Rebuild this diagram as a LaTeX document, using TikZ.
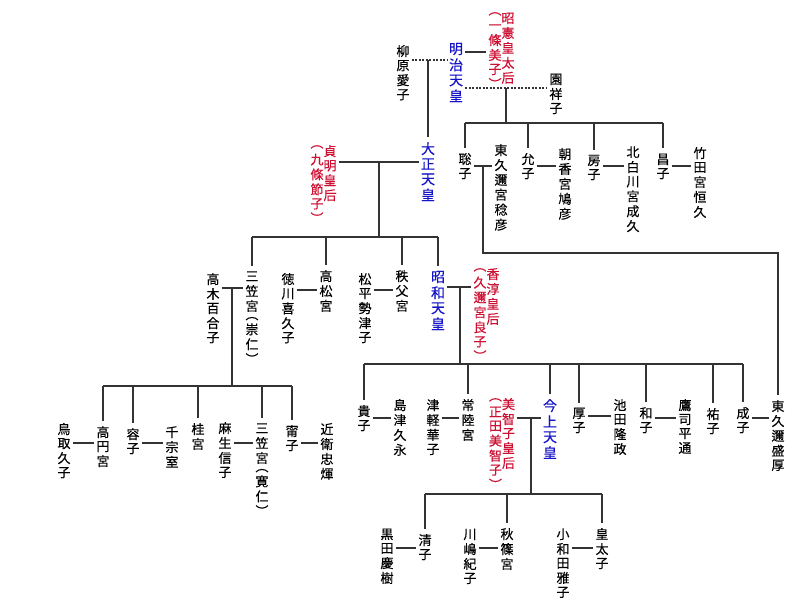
\documentclass[tikz,border=0pt]{standalone}
\usepackage{fontspec}
\setmainfont{Noto Sans CJK JP}[FakeBold=0.3]
\definecolor{tenno}{RGB}{20,20,200}
\definecolor{kogo}{RGB}{205,15,50}
\newcommand{\tate}[1]{\begin{tabular}[t]{@{}c@{}}#1\end{tabular}}
\begin{document}
\begin{tikzpicture}
  [x=1pt,y=-1pt,
   every node/.style={anchor=base,inner xsep=2pt,inner ysep=0pt,font=\fontsize{13}{13.4}\selectfont},
   emperor/.style={text=tenno,font=\fontsize{14}{14.6}\selectfont},
   empress/.style={text=kogo},
   tree/.style={line width=1.2pt,draw=black!80},
   drop/.style={tree,shorten >=5pt},
   concubine/.style={tree,dash pattern=on 2pt off 1.5pt}]
  \useasboundingbox[fill=white] (0,0) rectangle (800,599);
  % 明治天皇
  \node[emperor] (meiji) at (456,54) {\tate{明\\治\\天\\皇}};
  \node[empress] (shoken) at (501.5,23) {\raisebox{8.4pt}{\tate{︵\\[2pt]一\\條\\美\\子\\︶}}\tate{昭\\憲\\皇\\太\\后}};
  \node (yanagi) at (403,56) {\tate{柳\\原\\愛\\子}};
  \node (sono) at (556,84) {\tate{園\\祥\\子}};
  % 大正天皇
  \node[emperor] (taisho) at (428,154) {\tate{大\\正\\天\\皇}};
  \node[empress] (teimei) at (323.5,156) {\raisebox{8.4pt}{\tate{︵\\[2pt]九\\條\\節\\子\\︶}}\tate{貞\\明\\皇\\后}};
  \node (toshiko) at (465,164) {\tate{聡\\子}};
  \node (naruhiko) at (501,155) {\tate{東\\久\\邇\\宮\\稔\\彦}};
  \node (nobuko) at (528,164) {\tate{允\\子}};
  \node (yasuhiko) at (565,159) {\tate{朝\\香\\宮\\鳩\\彦}};
  \node (fusako) at (594,165) {\tate{房\\子}};
  \node (naruhisa) at (633,157) {\tate{北\\白\\川\\宮\\成\\久}};
  \node (masako) at (663,164) {\tate{昌\\子}};
  \node (tsunehisa) at (700,158) {\tate{竹\\田\\宮\\恒\\久}};
  % 昭和天皇
  \node (yuriko) at (213,284) {\tate{高\\木\\百\\合\\子}};
  \node (takahito) at (252,281) {\tate{三\\笠\\宮\\[-5pt]︵\\崇\\仁\\︶}};
  \node (kikuko) at (288,284) {\tate{徳\\川\\喜\\久\\子}};
  \node (takamatsu) at (326,281) {\tate{高\\松\\宮}};
  \node (setsuko) at (365,284) {\tate{松\\平\\勢\\津\\子}};
  \node (chichibu) at (402,281) {\tate{秩\\父\\宮}};
  \node[emperor] (showa) at (438,282) {\tate{昭\\和\\天\\皇}};
  \node[empress] (kojun) at (486.5,279) {\raisebox{8.4pt}{\tate{︵\\[2pt]久\\邇\\宮\\良\\子\\︶}}\tate{香\\淳\\皇\\后}};
  % 三笠宮家
  \node (hisako) at (64,434) {\tate{鳥\\取\\久\\子}};
  \node (takamado) at (103,437) {\tate{高\\円\\宮}};
  \node (yasuko) at (133,439) {\tate{容\\子}};
  \node (sen) at (172,437) {\tate{千\\宗\\室}};
  \node (katsura) at (198,434) {\tate{桂\\宮}};
  \node (nobuko2) at (225,433) {\tate{麻\\生\\信\\子}};
  \node (tomohito) at (262,433) {\tate{三\\笠\\宮\\[-5pt]︵\\寛\\仁\\︶}};
  \node (yasuko2) at (292,436) {\tate{甯\\子}};
  \node (tadateru) at (327,434) {\tate{近\\衛\\忠\\煇}};
  % 今上天皇
  \node (takako) at (364,416) {\tate{貴\\子}};
  \node (hisanaga) at (400,410) {\tate{島\\津\\久\\永}};
  \node (hanako) at (433,410) {\tate{津\\軽\\華\\子}};
  \node (hitachi) at (468,410) {\tate{常\\陸\\宮}};
  \node[empress] (michiko) at (502,409) {\raisebox{8.4pt}{\tate{︵\\[2pt]正\\田\\美\\智\\子\\︶}}\tate{美\\智\\子\\皇\\后}};
  \node[emperor] (kinjo) at (550,411) {\tate{今\\上\\天\\皇}};
  \node (atsuko) at (579,418) {\tate{厚\\子}};
  \node (takamasa) at (620,410) {\tate{池\\田\\隆\\政}};
  \node (kazuko) at (646,418) {\tate{和\\子}};
  \node (toshimichi) at (685,410) {\tate{鷹\\司\\平\\通}};
  \node (yoriko) at (713,419) {\tate{祐\\子}};
  \node (shigeko) at (743,418) {\tate{成\\子}};
  \node (morihiro) at (778,411) {\tate{東\\久\\邇\\盛\\厚}};
  % 皇太子の代
  \node (yoshiki) at (387,539) {\tate{黒\\田\\慶\\樹}};
  \node (sayako) at (425,545) {\tate{清\\子}};
  \node (kiko) at (470,539) {\tate{川\\嶋\\紀\\子}};
  \node (akishino) at (507,539) {\tate{秋\\篠\\宮}};
  \node (owada) at (563,539) {\tate{小\\和\\田\\雅\\子}};
  \node (kotaishi) at (602,539) {\tate{皇\\太\\子}};

  % branch points
  \coordinate (k1) at (506,123);
  \coordinate (k2) at (379,237);
  \coordinate (k3) at (460,364);
  \coordinate (k4) at (232,386);
  \coordinate (k5) at (531,494);
  \coordinate (k6) at (483,253);

  % marriages
  \foreach \a/\b/\y in {meiji/shoken/52,toshiko/naruhiko/166,nobuko/yasuhiko/166,
      fusako/naruhisa/166,masako/tsunehisa/166,teimei/taisho/162,yuriko/takahito/288,
      kikuko/takamatsu/290,setsuko/chichibu/290,showa/kojun/287,hisako/takamado/443,
      yasuko/sen/443,nobuko2/tomohito/443,yasuko2/tadateru/443,takako/hisanaga/418,
      hanako/hitachi/418,michiko/kinjo/418,atsuko/takamasa/416,kazuko/toshimichi/418,
      shigeko/morihiro/418,yoshiki/sayako/548,kiko/akishino/548,owada/kotaishi/548}
    \draw[tree] (\a.east |- 0,\y) -- (\b.west |- 0,\y);
  \draw[concubine] (yanagi.east |- 0,60) -- (meiji.west |- 0,60);
  \draw[concubine] (meiji.east |- 0,88) -- (sono.west |- 0,88);

  % descent
  \draw[drop] (taisho.north |- 0,60) -- (taisho.north);
  \draw[tree] (k1 |- 0,88) -- (k1);
  \draw[tree] (toshiko.north |- k1) -- (masako.north |- k1);
  \foreach \c in {toshiko,nobuko,fusako,masako}
    \draw[drop] (\c.north |- k1) -- (\c.north);
  \draw[drop] (k6 |- 0,166) -- (k6) -| (morihiro.north);
  \draw[tree] (k2 |- 0,162) -- (k2);
  \draw[tree] (takahito.north |- k2) -- (showa.north |- k2);
  \foreach \c in {takahito,takamatsu,chichibu,showa}
    \draw[drop] (\c.north |- k2) -- (\c.north);
  \draw[tree] (k3 |- 0,287) -- (k3);
  \draw[tree] (takako.north |- k3) -- (shigeko.north |- k3);
  \foreach \c in {takako,hitachi,kinjo,atsuko,kazuko,yoriko,shigeko}
    \draw[drop] (\c.north |- k3) -- (\c.north);
  \draw[tree] (k4 |- 0,288) -- (k4);
  \draw[tree] (takamado.north |- k4) -- (yasuko2.north |- k4);
  \foreach \c in {takamado,yasuko,katsura,tomohito,yasuko2}
    \draw[drop] (\c.north |- k4) -- (\c.north);
  \draw[tree] (k5 |- 0,418) -- (k5);
  \draw[tree] (sayako.north |- k5) -- (kotaishi.north |- k5);
  \foreach \c in {sayako,akishino,kotaishi}
    \draw[drop] (\c.north |- k5) -- (\c.north);
\end{tikzpicture}
\end{document}
